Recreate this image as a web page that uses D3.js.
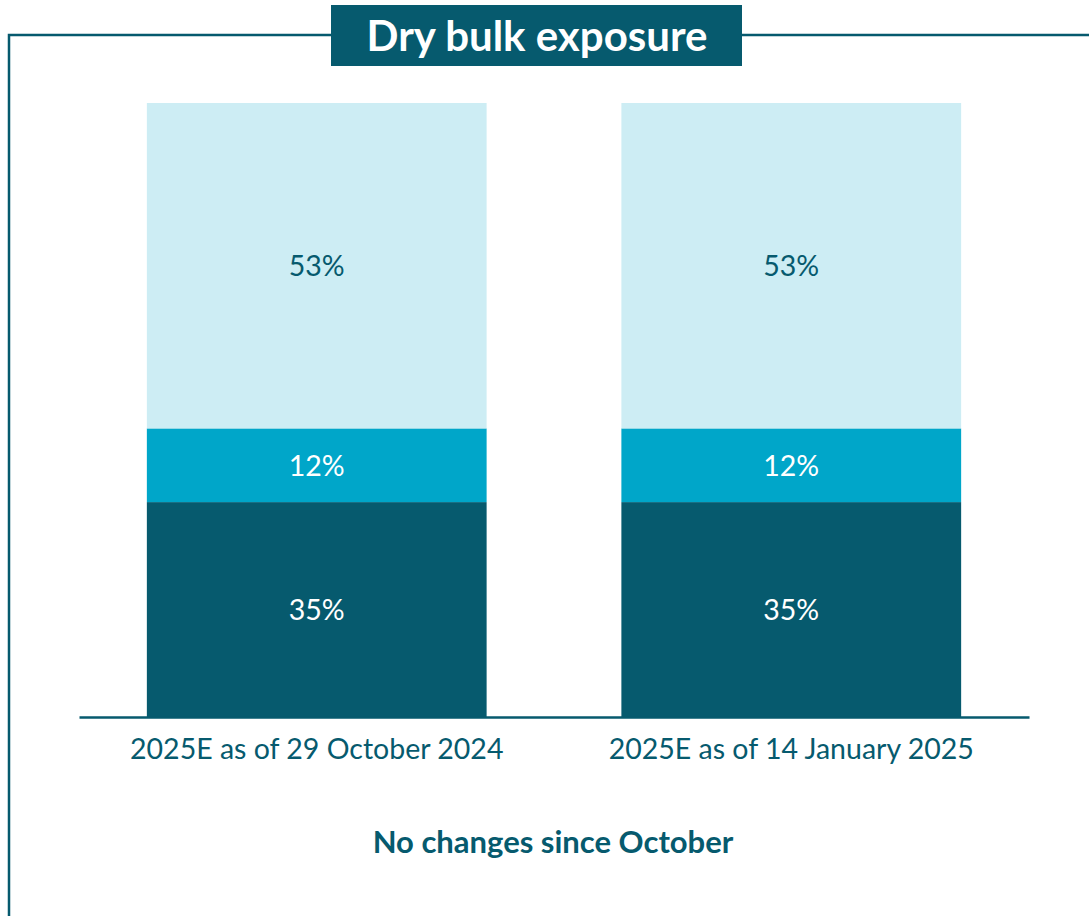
<!DOCTYPE html>
<html>
<head>
<meta charset="utf-8">
<script src="https://cdn.jsdelivr.net/npm/d3@7"></script>
<style>
  body { margin: 0; background: #fff; }
  svg text { font-family: Lato, "Open Sans", sans-serif; }
</style>
</head>
<body>
<div id="chart"></div>
<script>
const categories = ["2025E as of 29 October 2024", "2025E as of 14 January 2025"];
const segments = ["bottom", "middle", "top"];
const bottomValues = [35, 35];
const middleValues = [12, 12];
const topValues = [53, 53];
const colours = ["#065a6e", "#00a6c9", "#cdedf4"];
const labelColours = ["#ffffff", "#ffffff", "#065a6e"];

const width = 1089;
const height = 916;
const dark = "#065a6e";

const svg = d3.select("#chart")
              .append("svg")
              .attr("width", width)
              .attr("height", height);

// frame around the chart
svg.append("path")
   .attr("d", `M9,916 V35 H331 M742,35 H1089`)
   .attr("fill", "none")
   .attr("stroke", dark)
   .attr("stroke-width", 2.5);

svg.append("rect")
   .attr("x", 331).attr("y", 5)
   .attr("width", 411).attr("height", 61)
   .attr("fill", dark);

svg.append("text")
   .attr("x", 537).attr("y", 51)
   .attr("text-anchor", "middle")
   .attr("fill", "#fff")
   .attr("font-size", 42)
   .attr("font-weight", "bold")
   .text("Dry bulk exposure");

const table = categories.map((c, i) => ({
  category: c,
  bottom: bottomValues[i],
  middle: middleValues[i],
  top: topValues[i]
}));

const stacked = d3.stack().keys(segments)(table);

const x = d3.scaleBand().domain(categories).range([79, 1029]).paddingInner(0.284).paddingOuter(0.143);
const y = d3.scaleLinear().domain([0, 100]).range([717, 103]);

const groups = svg.selectAll("g.layer")
   .data(stacked)
   .enter()
   .append("g")
   .attr("class", "layer");

groups.each(function(layer, li) {
  const g = d3.select(this);
  g.selectAll("rect")
    .data(layer)
    .enter()
    .append("rect")
    .attr("x", d => x(d.data.category))
    .attr("y", d => y(d[1]))
    .attr("width", x.bandwidth())
    .attr("height", d => y(d[0]) - y(d[1]))
    .attr("fill", colours[li]);

  g.selectAll("text")
    .data(layer)
    .enter()
    .append("text")
    .attr("x", d => x(d.data.category) + x.bandwidth() / 2)
    .attr("y", d => (y(d[0]) + y(d[1])) / 2 + 10.5)
    .attr("text-anchor", "middle")
    .attr("font-size", 28.5)
    .attr("fill", labelColours[li])
    .text(d => (d[1] - d[0]) + "%");
});

const axis = svg.append("g")
   .attr("transform", "translate(0,717)")
   .call(d3.axisBottom(x).tickSize(0));
axis.select(".domain").attr("stroke", dark).attr("stroke-width", 2.5);
axis.selectAll("text")
   .attr("y", 42)
   .attr("dy", null)
   .attr("font-size", 28.5)
   .attr("fill", dark)
   .style("font-family", "Lato, \"Open Sans\", sans-serif");

svg.append("text")
   .attr("x", 553).attr("y", 853)
   .attr("text-anchor", "middle")
   .attr("fill", dark)
   .attr("font-size", 31)
   .attr("font-weight", "bold")
   .text("No changes since October");
</script>
</body>
</html>
